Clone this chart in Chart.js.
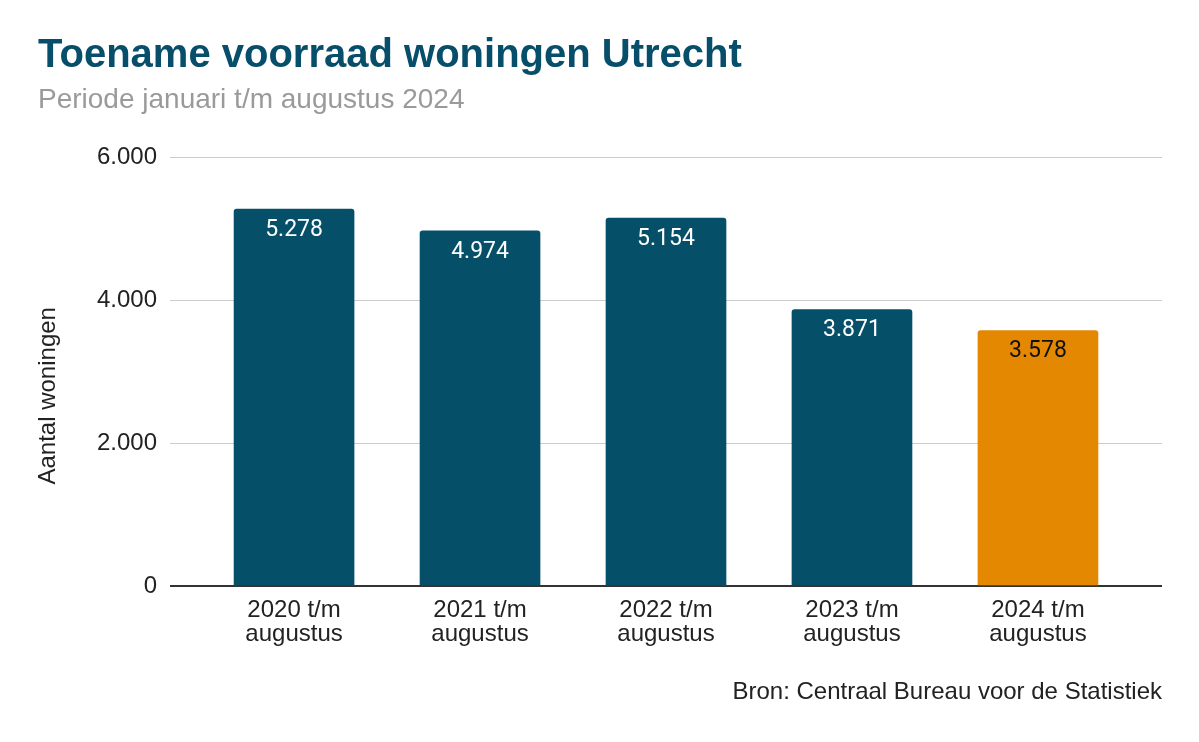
<!DOCTYPE html>
<html>
<head>
<meta charset="utf-8">
<script src="https://cdn.jsdelivr.net/npm/chart.js@4"></script>
<style>
  html, body { margin: 0; padding: 0; background: #fff; }
  #wrap { width: 1199px; height: 742px; }
</style>
</head>
<body>
<div id="wrap"><canvas id="WoningChart"></canvas></div>
<script>
// data
const Categories = [["2020 t/m", "augustus"], ["2021 t/m", "augustus"], ["2022 t/m", "augustus"], ["2023 t/m", "augustus"], ["2024 t/m", "augustus"]];
const Woningen = [5278, 4974, 5154, 3871, 3578];
const YTicks = [0, 2000, 4000, 6000];

const DarkBlue = "#054f69";
const Orange = "#e38800";

function Dutch(n) {
    return String(n).replace(/\B(?=(\d{3})+(?!\d))/g, ".");
}

// value labels inside the bar tops, axis title and source line
const ExtraText = {
    id: "extraText",
    afterDatasetsDraw(chart) {
        const ctx = chart.ctx;
        const meta = chart.getDatasetMeta(0);
        ctx.save();
        ctx.font = "23px Roboto";
        ctx.textAlign = "center";
        ctx.textBaseline = "middle";
        meta.data.forEach(function (bar, i) {
            ctx.fillStyle = i === Woningen.length - 1 ? "#111" : "#fff";
            ctx.fillText(Dutch(Woningen[i]), bar.x, bar.y + 21);
        });

        const area = chart.chartArea;
        ctx.fillStyle = "#222";
        ctx.font = "24px 'Liberation Sans', Arial";
        ctx.save();
        ctx.translate(48, (area.top + area.bottom) / 2 + 24);
        ctx.rotate(-Math.PI / 2);
        ctx.fillText("Aantal woningen", 0, 0);
        ctx.restore();

        ctx.textAlign = "right";
        ctx.fillText("Bron: Centraal Bureau voor de Statistiek", area.right, chart.height - 50);
        ctx.restore();
    }
};

const WoningChart = new Chart(document.getElementById("WoningChart").getContext("2d"), {
    type: "bar",
    data: {
        datasets: [{
            data: Woningen.map(function (v, i) { return { x: i, y: v }; }),
            backgroundColor: Woningen.map(function (v, i) { return i === Woningen.length - 1 ? Orange : DarkBlue; }),
            barThickness: 120,
            borderRadius: { topLeft: 3, topRight: 3 },
            borderSkipped: "bottom"
        }]
    },
    options: {
        responsive: true,
        maintainAspectRatio: false,
        animation: false,
        layout: { padding: { left: 38, right: 37, top: 0, bottom: 92 } },
        plugins: {
            legend: { display: false },
            tooltip: { enabled: false },
            title: {
                display: true,
                text: "Toename voorraad woningen Utrecht",
                align: "start",
                color: "#064e69",
                font: { family: "'Liberation Sans', Arial", size: 40, weight: "bold" },
                padding: { top: 32, bottom: 0 }
            },
            subtitle: {
                display: true,
                text: "Periode januari t/m augustus 2024",
                align: "start",
                color: "#9a9a9a",
                font: { family: "'Liberation Sans', Arial", size: 28 },
                padding: { top: 3, bottom: 41 }
            }
        },
        scales: {
            x: {
                type: "linear",
                offset: false,
                min: -0.667,
                max: 4.667,
                grid: { display: false },
                border: { display: false },
                afterBuildTicks: function (scale) {
                    scale.ticks = Categories.map(function (c, i) { return { value: i }; });
                },
                ticks: {
                    autoSkip: false,
                    maxRotation: 0,
                    padding: 4,
                    color: "#222",
                    font: { family: "'Liberation Sans', Arial", size: 24, lineHeight: 1.0 },
                    callback: function (v) { return Categories[v]; }
                }
            },
            y: {
                min: 0,
                max: 6000,
                afterBuildTicks: function (scale) {
                    scale.ticks = YTicks.map(function (v) { return { value: v }; });
                },
                afterFit: function (scale) { scale.width = 132; },
                grid: {
                    drawTicks: false,
                    color: function (c) { return c.tick.value === 0 ? "#333" : "#cccccc"; },
                    lineWidth: function (c) { return c.tick.value === 0 ? 2 : 1; }
                },
                border: { display: false },
                ticks: {
                    padding: 13,
                    color: "#222",
                    font: { family: "'Liberation Sans', Arial", size: 24 },
                    callback: function (v) { return Dutch(v); }
                }
            }
        }
    },
    plugins: [ExtraText]
});
</script>
</body>
</html>
